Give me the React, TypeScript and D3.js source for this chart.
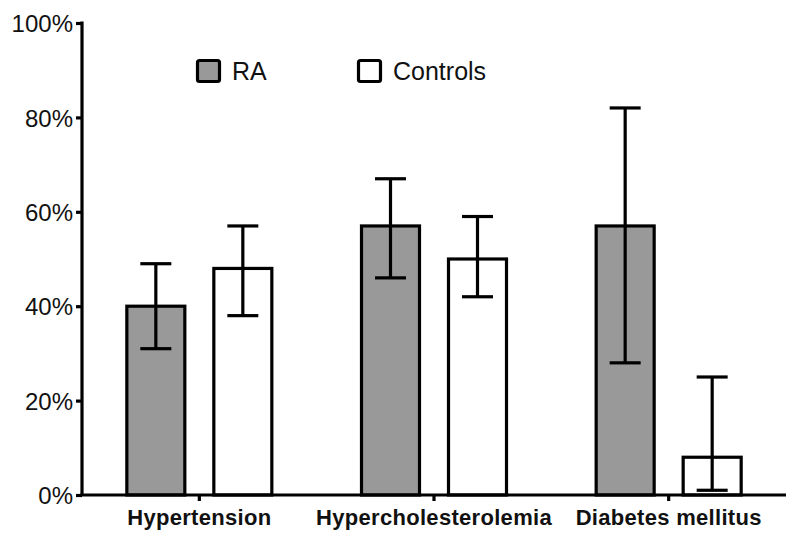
import React, { useEffect, useRef } from 'react';
import * as d3 from 'd3';

const categories = ['Hypertension', 'Hypercholesterolemia', 'Diabetes mellitus'];
const seriesNames = ['RA', 'Controls'];
const raValues = [40, 57, 57];
const raLow = [31, 46, 28];
const raHigh = [49, 67, 82];
const controlValues = [48, 50, 8];
const controlLow = [38, 42, 1];
const controlHigh = [57, 59, 25];
const yTicks = [0, 20, 40, 60, 80, 100];

const fills = ['#999999', '#ffffff'];

const App: React.FC = () => {
  const svgRef = useRef<SVGSVGElement>(null);

  useEffect(() => {
    if (!svgRef.current) return;
    const svg = d3.select(svgRef.current);
    svg.selectAll('*').remove();

    const font = 'Liberation Sans, Arial, sans-serif';

    const x = d3.scaleBand().domain(categories).range([82, 786]).padding(0);
    const y = d3.scaleLinear().domain([0, 100]).range([495, 23]);

    const offset = 43.5;
    const barWidth = 58;
    const capWidth = 31;

    const series = [
      { name: seriesNames[0], values: raValues, low: raLow, high: raHigh, fill: fills[0], dx: -offset },
      { name: seriesNames[1], values: controlValues, low: controlLow, high: controlHigh, fill: fills[1], dx: offset },
    ];

    // Bars
    series.forEach((s) => {
      const g = svg.append('g');
      g.selectAll('rect')
        .data(categories)
        .enter()
        .append('rect')
        .attr('x', (c) => (x(c) || 0) + x.bandwidth() / 2 + s.dx - barWidth / 2)
        .attr('y', (c, i) => y(s.values[i]))
        .attr('width', barWidth)
        .attr('height', (c, i) => y(0) - y(s.values[i]))
        .attr('fill', s.fill)
        .attr('stroke', '#000')
        .attr('stroke-width', 3.2);
    });

    // Error bars
    series.forEach((s) => {
      const g = svg.append('g').attr('stroke', '#000').attr('stroke-width', 3.2);
      categories.forEach((c, i) => {
        const cx = (x(c) || 0) + x.bandwidth() / 2 + s.dx;
        g.append('line')
          .attr('x1', cx).attr('x2', cx)
          .attr('y1', y(s.low[i])).attr('y2', y(s.high[i]));
        [s.low[i], s.high[i]].forEach((v) => {
          g.append('line')
            .attr('x1', cx - capWidth / 2).attr('x2', cx + capWidth / 2)
            .attr('y1', y(v)).attr('y2', y(v));
        });
      });
    });

    // Y axis
    const yAxis = svg.append('g').attr('transform', 'translate(82,0)').call(
      d3.axisLeft(y).tickValues(yTicks).tickFormat((d) => `${d}%`).tickSize(6).tickSizeOuter(0)
    );
    yAxis.select('.domain').attr('stroke-width', 3.2).attr('d', `M0,${y(100) - 1.5}V${y(0)}`);
    yAxis.selectAll('.tick line').attr('stroke-width', 3.2);
    yAxis.selectAll('.tick text')
      .attr('font-family', font)
      .attr('font-size', 24)
      .attr('fill', '#111')
      .attr('x', -9)
      .attr('dy', '0.36em');

    // X axis
    const xAxis = svg.append('g').attr('transform', `translate(0,${y(0)})`).call(
      d3.axisBottom(x).tickSize(6).tickSizeOuter(0).tickPadding(8)
    );
    xAxis.select('.domain').attr('stroke-width', 3.2).attr('d', `M80.4,0H786`);
    xAxis.selectAll('.tick line').attr('stroke-width', 3.2);
    xAxis.selectAll('.tick text')
      .attr('font-family', font)
      .attr('font-size', 22)
      .attr('font-weight', 'bold')
      .attr('letter-spacing', 0.3)
      .attr('fill', '#111')
      .attr('dy', '0.72em');

    // Legend
    const legendX = [196, 357];
    series.forEach((s, i) => {
      const lg = svg.append('g').attr('transform', `translate(${legendX[i]},59)`);
      lg.append('rect')
        .attr('x', 1.5).attr('y', 1.5)
        .attr('width', 22).attr('height', 21)
        .attr('rx', 2)
        .attr('fill', s.fill)
        .attr('stroke', '#000')
        .attr('stroke-width', 3.2);
      lg.append('text')
        .attr('x', 36).attr('y', 21)
        .attr('font-family', font)
        .attr('font-size', 25)
        .attr('fill', '#111')
        .text(s.name);
    });
  }, []);

  return (
    <svg
      ref={svgRef}
      width={800}
      height={539}
      style={{ position: 'absolute', left: 0, top: 0, background: '#fff' }}
    />
  );
};

export default App;
